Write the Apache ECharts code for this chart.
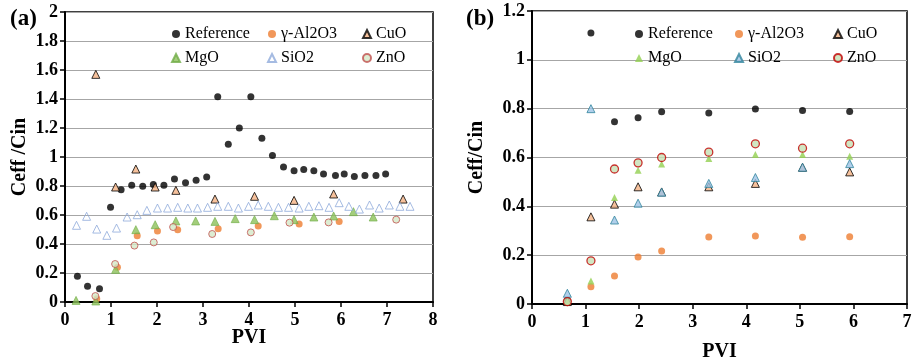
<!DOCTYPE html>
<html>
<head>
<meta charset="utf-8">
<script src="https://cdn.jsdelivr.net/npm/echarts@6/dist/echarts.min.js"></script>
<style>
  html, body { margin: 0; padding: 0; background: #fff; }
  #chart { width: 913px; height: 363px; }
</style>
</head>
<body>
<div id="chart"></div>
<script>
// ---- panel (a) data ----
var aRefX = [0.27, 0.49, 0.75, 0.99, 1.22, 1.45, 1.69, 1.92, 2.15, 2.38, 2.62, 2.85, 3.08, 3.32, 3.55, 3.79, 4.04, 4.28, 4.51, 4.75, 4.98, 5.19, 5.41, 5.62, 5.88, 6.07, 6.29, 6.52, 6.76, 6.97];
var aRefY = [0.177, 0.108, 0.092, 0.653, 0.775, 0.805, 0.798, 0.811, 0.805, 0.848, 0.823, 0.839, 0.862, 1.416, 1.088, 1.20, 1.416, 1.129, 1.01, 0.931, 0.906, 0.913, 0.906, 0.883, 0.872, 0.883, 0.865, 0.872, 0.872, 0.883];
var aAlX = [0.69, 1.14, 1.57, 2.01, 2.45, 3.33, 4.20, 5.09, 5.96];
var aAlY = [0.023, 0.239, 0.457, 0.490, 0.499, 0.506, 0.524, 0.538, 0.556];
var aCuX = [0.67, 1.10, 1.54, 1.96, 2.41, 3.26, 4.12, 4.98, 5.84, 7.35];
var aCuY = [1.57, 0.793, 0.917, 0.793, 0.770, 0.710, 0.729, 0.701, 0.745, 0.710];
var aMgX = [0.24, 0.67, 1.10, 1.54, 1.96, 2.41, 2.84, 3.26, 3.70, 4.12, 4.55, 4.98, 5.41, 5.84, 6.27, 6.70];
var aMgY = [0.011, 0.007, 0.225, 0.499, 0.533, 0.559, 0.559, 0.556, 0.575, 0.568, 0.595, 0.568, 0.586, 0.593, 0.623, 0.586];
var aSiX = [0.25, 0.47, 0.69, 0.91, 1.12, 1.35, 1.57, 1.78, 2.01, 2.23, 2.45, 2.67, 2.88, 3.10, 3.32, 3.55, 3.77, 3.99, 4.20, 4.42, 4.64, 4.86, 5.09, 5.30, 5.52, 5.74, 5.96, 6.17, 6.40, 6.62, 6.83, 7.05, 7.28, 7.50];
var aSiY = [0.529, 0.591, 0.503, 0.460, 0.510, 0.586, 0.602, 0.632, 0.648, 0.648, 0.653, 0.648, 0.648, 0.653, 0.660, 0.660, 0.648, 0.660, 0.669, 0.660, 0.653, 0.653, 0.648, 0.660, 0.664, 0.653, 0.685, 0.660, 0.641, 0.669, 0.648, 0.669, 0.660, 0.660];
var aZnX = [0.66, 1.09, 1.51, 1.93, 2.35, 3.20, 4.04, 4.88, 5.73, 7.20];
var aZnY = [0.041, 0.262, 0.389, 0.411, 0.517, 0.469, 0.480, 0.547, 0.549, 0.568];

// ---- panel (b) data ----
var bX = [0.66, 1.10, 1.54, 1.98, 2.42, 3.30, 4.17, 5.05, 5.93];
var bRefY = [0.015, 1.110, 0.746, 0.763, 0.787, 0.782, 0.799, 0.792, 0.788];
var bAlY = [0.005, 0.071, 0.115, 0.192, 0.217, 0.274, 0.279, 0.273, 0.275];
var bCuY = [0.01, 0.357, 0.409, 0.480, 0.459, 0.480, 0.494, 0.56, 0.541];
var bMgY = [0.01, 0.094, 0.436, 0.548, 0.573, 0.596, 0.612, 0.612, 0.605];
var bSiY = [0.044, 0.800, 0.344, 0.413, 0.458, 0.494, 0.518, 0.560, 0.575];
var bZnY = [0.010, 0.177, 0.553, 0.578, 0.600, 0.622, 0.656, 0.638, 0.656];

var xTicksA = [0, 8];
var xTicksB = [0, 7];
var yTicksA = [0, 2];
var yTicksB = [0, 1.2];

function zip(xs, ys) {
    return xs.map(function (x, i) { return [x, ys[i]]; });
}

var serif = 'Liberation Serif';
var chart = echarts.init(document.getElementById('chart'));

function xAx(idx, range, gap) {
    return {
        gridIndex: idx, type: 'value', min: range[0], max: range[1], interval: 1,
        name: 'PVI', nameLocation: 'middle', nameGap: gap, nameMoveOverlap: false,
        nameTextStyle: { fontFamily: serif, fontWeight: 'bold', fontSize: 20, color: '#000' },
        axisLine: { onZero: false, lineStyle: { color: '#000', width: 2 } },
        axisTick: { show: true, length: 5, lineStyle: { color: '#000', width: 1.5 } },
        axisLabel: { fontFamily: serif, fontWeight: 'bold', fontSize: 18, color: '#000', margin: 9 },
        splitLine: { show: false }
    };
}
function yAx(idx, range, name, gap) {
    return {
        gridIndex: idx, type: 'value', min: range[0], max: range[1], interval: 0.2,
        name: name, nameLocation: 'middle', nameGap: gap, nameMoveOverlap: false,
        nameTextStyle: { fontFamily: serif, fontWeight: 'bold', fontSize: 20, color: '#000' },
        axisLine: { show: true, onZero: false, lineStyle: { color: '#000', width: 2 } },
        axisTick: { show: true, length: 5, lineStyle: { color: '#000', width: 1.5 } },
        axisLabel: { fontFamily: serif, fontWeight: 'bold', fontSize: 18, color: '#000', margin: 7 },
        splitLine: { show: true, lineStyle: { color: '#a6a6a6', width: 1 } }
    };
}
function legendCol(left, names) {
    return {
        orient: 'vertical', left: left, top: 21, itemGap: 8,
        itemWidth: 8, itemHeight: 8, data: names,
        formatter: function (n) { return n.replace('_b', ''); },
        textStyle: { fontFamily: serif, fontSize: 16, color: '#000', lineHeight: 16 }
    };
}

var option = {
    animation: false,
    title: [
        { text: '(a)', left: 5, top: 3, textStyle: { fontFamily: serif, fontWeight: 'bold', fontSize: 23, color: '#000' } },
        { text: '(b)', left: 461, top: 3, textStyle: { fontFamily: serif, fontWeight: 'bold', fontSize: 23, color: '#000' } }
    ],
    grid: [
        { left: 65, right: 480, top: 12, bottom: 61, show: true, borderColor: '#000', borderWidth: 1.5, outerBoundsMode: 'none' },
        { left: 532, right: 6, top: 11, bottom: 59, show: true, borderColor: '#000', borderWidth: 1.5, outerBoundsMode: 'none' }
    ],
    legend: [
        legendCol(166, ['Reference', 'MgO']),
        legendCol(262, ['γ-Al2O3', 'SiO2']),
        legendCol(357, ['CuO', 'ZnO']),
        legendCol(630, ['Reference_b', 'MgO_b']),
        legendCol(729, ['γ-Al2O3_b', 'SiO2_b']),
        legendCol(828, ['CuO_b', 'ZnO_b'])
    ],
    xAxis: [xAx(0, xTicksA, 26), xAx(1, xTicksB, 38)],
    yAxis: [yAx(0, yTicksA, 'Ceff /Cin', 35), yAx(1, yTicksB, 'Ceff/Cin', 45)],
    series: [
        { name: 'Reference', type: 'scatter', xAxisIndex: 0, yAxisIndex: 0, symbol: 'circle', symbolSize: 7,
          itemStyle: { color: '#000' }, data: zip(aRefX, aRefY) },
        { name: 'γ-Al2O3', type: 'scatter', xAxisIndex: 0, yAxisIndex: 0, symbol: 'circle', symbolSize: 7,
          itemStyle: { color: '#ed7d31' }, data: zip(aAlX, aAlY) },
        { name: 'CuO', type: 'scatter', xAxisIndex: 0, yAxisIndex: 0, symbol: 'triangle', symbolSize: 8,
          itemStyle: { color: '#f4b183', borderColor: '#000', borderWidth: 1 }, data: zip(aCuX, aCuY) },
        { name: 'MgO', type: 'scatter', xAxisIndex: 0, yAxisIndex: 0, symbol: 'triangle', symbolSize: 8,
          itemStyle: { color: '#8cc05a', borderColor: '#70ad47', borderWidth: 0.8 }, data: zip(aMgX, aMgY) },
        { name: 'SiO2', type: 'scatter', xAxisIndex: 0, yAxisIndex: 0, symbol: 'triangle', symbolSize: 8,
          itemStyle: { color: 'rgba(255,255,255,0)', borderColor: '#8eaadb', borderWidth: 1 }, data: zip(aSiX, aSiY) },
        { name: 'ZnO', type: 'scatter', xAxisIndex: 0, yAxisIndex: 0, symbol: 'circle', symbolSize: 7,
          itemStyle: { color: '#d5e8c8', borderColor: '#c0504d', borderWidth: 1 }, data: zip(aZnX, aZnY) },

        { name: 'Reference_b', type: 'scatter', xAxisIndex: 1, yAxisIndex: 1, symbol: 'circle', symbolSize: 7,
          itemStyle: { color: '#000' }, data: zip(bX, bRefY) },
        { name: 'γ-Al2O3_b', type: 'scatter', xAxisIndex: 1, yAxisIndex: 1, symbol: 'circle', symbolSize: 7,
          itemStyle: { color: '#ed7d31' }, data: zip(bX, bAlY) },
        { name: 'CuO_b', type: 'scatter', xAxisIndex: 1, yAxisIndex: 1, symbol: 'triangle', symbolSize: 8,
          itemStyle: { color: '#f4b183', borderColor: '#000', borderWidth: 1 }, data: zip(bX, bCuY) },
        { name: 'MgO_b', type: 'scatter', xAxisIndex: 1, yAxisIndex: 1, symbol: 'triangle', symbolSize: 7,
          itemStyle: { color: '#92d050' }, data: zip(bX, bMgY) },
        { name: 'SiO2_b', type: 'scatter', xAxisIndex: 1, yAxisIndex: 1, symbol: 'triangle', symbolSize: 8,
          itemStyle: { color: '#9dc3e6', borderColor: '#31859c', borderWidth: 1 }, data: zip(bX, bSiY) },
        { name: 'ZnO_b', type: 'scatter', xAxisIndex: 1, yAxisIndex: 1, symbol: 'circle', symbolSize: 8,
          itemStyle: { color: '#c5e0b4', borderColor: '#c00000', borderWidth: 1.3 }, data: zip(bX, bZnY) }
    ]
};

chart.setOption(option);
</script>
</body>
</html>
